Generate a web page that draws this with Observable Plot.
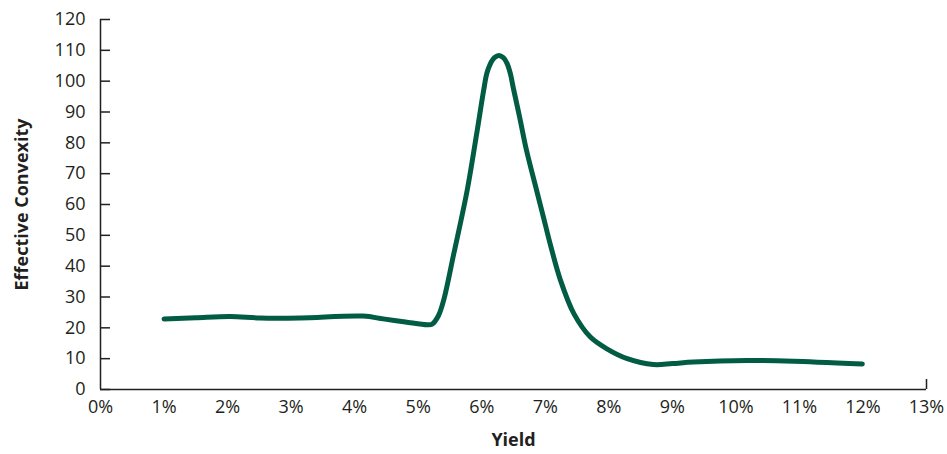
<!DOCTYPE html>
<html>
<head>
<meta charset="utf-8">
<script src="https://cdn.jsdelivr.net/npm/d3@7"></script>
<script src="https://cdn.jsdelivr.net/npm/@observablehq/plot@0.6"></script>
<style>
  html, body { margin: 0; padding: 0; background: #fff; }
  #chart svg { display: block; }
</style>
</head>
<body>
<div id="chart"></div>
<script>
const yieldPct = [1.00, 1.50, 2.04, 2.51, 3.14, 4.13, 4.45, 4.80, 5.14, 5.22, 5.32, 5.40, 5.56, 5.77, 5.92, 6.03, 6.08, 6.13, 6.20, 6.27, 6.34, 6.40, 6.45, 6.50, 6.60, 6.70, 6.84, 6.97, 7.08, 7.24, 7.45, 7.71, 7.97, 8.29, 8.70, 9.00, 9.33, 10.18, 10.91, 11.99];
const convexity = [22.9, 23.3, 23.7, 23.2, 23.2, 23.8, 22.9, 21.9, 21.0, 21.2, 24.0, 28.9, 44.0, 64.5, 82.9, 97.0, 102.5, 105.4, 107.6, 108.3, 107.6, 105.7, 102.5, 97.5, 88.0, 78.0, 66.5, 56.0, 47.0, 35.4, 24.6, 17.0, 13.2, 10.0, 8.1, 8.4, 8.9, 9.4, 9.2, 8.3];
const xTicks = [0, 1, 2, 3, 4, 5, 6, 7, 8, 9, 10, 11, 12, 13];
const yTicks = [0, 10, 20, 30, 40, 50, 60, 70, 80, 90, 100, 110, 120];
const xTitle = "Yield";
const yTitle = "Effective Convexity";

const data = yieldPct.map((x, i) => ({x, y: convexity[i]}));
const ink = "#231f20";
const font = "'Open Sans', 'Noto Sans', sans-serif";

const chart = Plot.plot({
  width: 947,
  height: 454,
  marginLeft: 100,
  marginRight: 21,
  marginTop: 19,
  marginBottom: 65,
  style: {fontFamily: font, fontSize: "18px", color: ink, background: "#fff"},
  x: {domain: [0, 13]},
  y: {domain: [0, 120]},
  marks: [
    Plot.axisY({ticks: yTicks, tickSize: 0, tickPadding: 15, label: null, fill: ink, fontSize: 18}),
    Plot.axisY({ticks: yTicks, tickSize: -10, text: null, label: null, stroke: ink, strokeWidth: 1.5}),
    Plot.axisX({ticks: xTicks, tickSize: 0, tickPadding: 11, tickFormat: d => d + "%", label: null, fill: ink, fontSize: 18}),
    Plot.axisX({ticks: [xTicks[xTicks.length - 1]], tickSize: -10, text: null, label: null, stroke: ink, strokeWidth: 1.5}),
    Plot.ruleX([0], {stroke: ink, strokeWidth: 1.5}),
    Plot.ruleY([0], {stroke: ink, strokeWidth: 1.5}),
    Plot.line(data, {x: "x", y: "y", curve: "catmull-rom", stroke: "#025c44", strokeWidth: 5, strokeLinejoin: "round"}),
    Plot.text([yTitle], {frameAnchor: "left", textAnchor: "middle", rotate: -90, dx: -78, fontWeight: "bold", fontSize: 18, fill: ink}),
    Plot.text([xTitle], {frameAnchor: "bottom", dy: 56, fontWeight: "bold", fontSize: 18, fill: ink})
  ]
});
document.getElementById("chart").append(chart);
</script>
</body>
</html>
